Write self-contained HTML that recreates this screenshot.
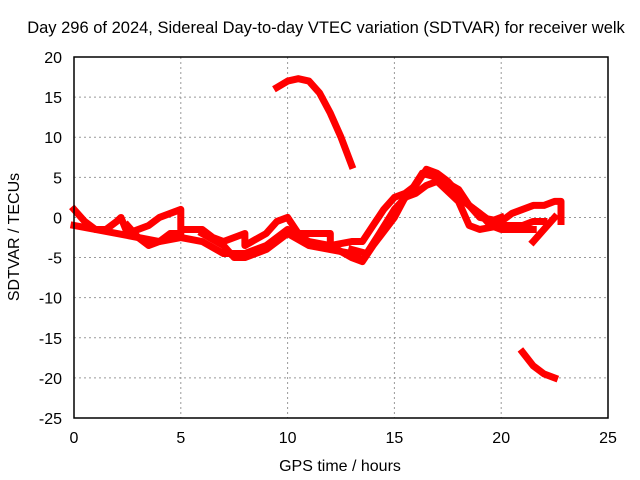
<!DOCTYPE html>
<html><head><meta charset="utf-8"><style>
body{margin:0;background:#fff}
svg{display:block;font-family:"Liberation Sans",sans-serif}
</style></head><body>
<svg id="chart" width="640" height="480">
<text x="326" y="33" font-size="16.5" text-anchor="middle">Day 296 of 2024, Sidereal Day-to-day VTEC variation (SDTVAR) for receiver welk</text>
<text x="340" y="471" font-size="16" text-anchor="middle">GPS time / hours</text>
<text transform="translate(19,237) rotate(-90)" font-size="16" text-anchor="middle">SDTVAR / TECUs</text>
<g id="grid"></g><g id="ticks"></g><g id="series"></g>
<rect x="74" y="57" width="534" height="361" fill="none" stroke="#000" stroke-width="1.5"/>
</svg>
<script>
const xTicks=[0,5,10,15,20,25];
const yTicks=[20,15,10,5,0,-5,-10,-15,-20,-25];
const traceA=[[0,-1],[1,-1.5],[2,-2],[3,-2.5],[4,-3],[5,-2.5],[6,-3],[7,-4.5],[8,-4.5],[9,-3.5],[10,-1.5],[11,-3],[12,-3.5],[13,-5],[13.5,-5.5],[14,-3.5],[15,0],[15.5,2.5],[16,3],[16.5,4],[17,4.5],[18,2],[18.5,-1],[19,-1.5],[20,-1],[21,-1],[21.5,-0.5],[22,-0.5]];
const traceB=[[0,1],[0.5,-0.5],[1,-1.5],[1.5,-1.5],[2,-0.5],[2.2,0],[2.5,-2],[3,-1.5],[3.5,-1],[4,0],[4.5,0.5],[5,1],[5,-1.5],[6,-1.5],[6.5,-2.5],[7,-3],[7.5,-2.5],[8,-2],[8,-3.5],[9,-2],[9.5,-0.5],[10,0],[10.5,-2],[11,-2],[12,-2],[12,-3.5],[13,-3],[13.5,-3],[14,-1],[14.5,1],[15,2.5],[15.5,3],[16,4],[16.5,6],[17,5.5],[17.5,4.5],[18,3],[19,0],[20,-0.5],[20.5,0.5],[21,1],[21.5,1.5],[22,1.5],[22.5,2],[22.8,2],[22.8,-0.5]];
const traceC=[[18,2.5],[19,0.5],[19.5,-1],[20,-1.5],[21,-1.5],[21.5,-1.5]];
const traceD=[[21.5,-3],[22,-1.5],[22.5,0]];
const traceE=[[6,-2],[7,-3.5],[7.5,-5],[8,-5],[9,-4],[10,-2],[11,-3.5],[12,-4],[13,-4.5],[13.3,-5]];
const traceF=[[2.5,-1],[3,-2.5],[3.5,-3.5],[4,-3],[4.5,-2],[5,-2]];
const traceG=[[13,-4],[13.7,-4.5],[14.3,-2],[15,1],[15.7,3],[16.3,5.5],[17,5],[18,3.5],[18.5,1.5],[19,0.5],[19.5,-0.5],[20,0]];
const traceHigh=[[9.5,16.2],[10,17],[10.5,17.3],[11,17],[11.5,15.5],[12,13],[12.5,10],[13,6.5]];
const traceLow=[[21,-16.8],[21.5,-18.5],[22,-19.5],[22.5,-20]];
const traces=[traceA,traceB,traceC,traceD,traceE,traceF,traceG,traceHigh,traceLow];
const NS="http://www.w3.org/2000/svg";
const X=h=>74+h*(534/25);
const Y=v=>57+(20-v)*(361/45);
const grid=document.getElementById('grid'),ticks=document.getElementById('ticks'),ser=document.getElementById('series');
function mk(tag,attrs,parent){const e=document.createElementNS(NS,tag);for(const k in attrs)e.setAttribute(k,attrs[k]);parent.appendChild(e);return e;}
xTicks.forEach(t=>{
  if(t>0&&t<25){const g=mk('line',{x1:X(t),x2:X(t),y1:57,y2:418,stroke:'#999','stroke-dasharray':'2,3'},grid);
  
  }
  const l=mk('text',{x:X(t),y:443,'font-size':16,'text-anchor':'middle'},ticks);l.textContent=t;
  
  
});
yTicks.forEach(t=>{
  if(t<20&&t>-25){const g=mk('line',{x1:74,x2:608,y1:Y(t),y2:Y(t),stroke:'#999','stroke-dasharray':'2,3'},grid);
  
  }
  const l=mk('text',{x:62,y:Y(t)+6,'font-size':16,'text-anchor':'end'},ticks);l.textContent=t;
  
  
});
traces.forEach((tr,i)=>{
  const p=mk('polyline',{points:tr.map(d=>X(d[0])+','+Y(d[1])).join(' '),fill:'none',stroke:'#f00','stroke-width':7,'stroke-linejoin':'round','stroke-linecap':'square'},ser);
  
  
});
</script>
</body></html>
